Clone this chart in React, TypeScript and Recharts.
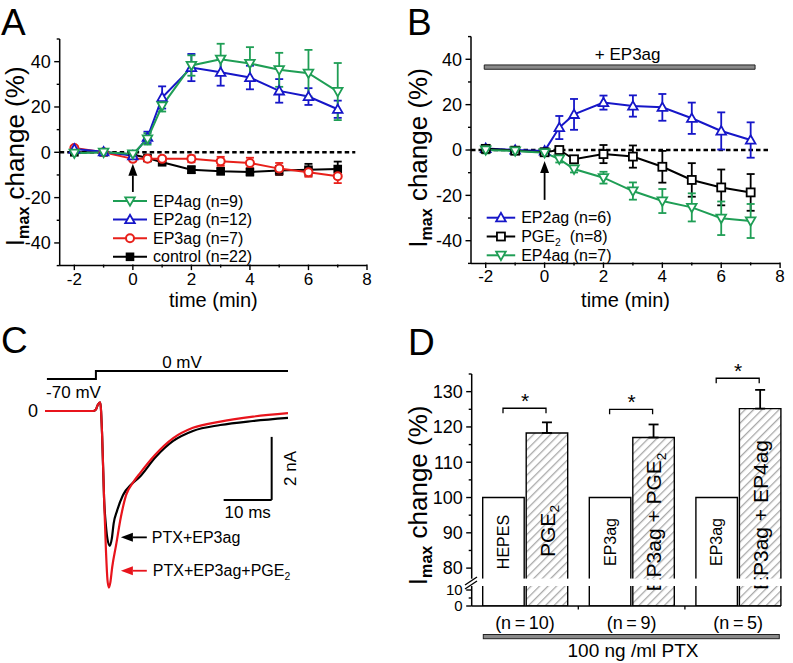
import React from "react";
import {
  LineChart,
  Line,
  XAxis,
  YAxis,
  ErrorBar,
  ReferenceLine,
  ReferenceArea,
  BarChart,
  Bar,
  LabelList,
} from "recharts";

const FONT = "'Liberation Sans', Arial, Helvetica, sans-serif";
const GREEN = "#1f9e55";
const BLUE = "#1616c8";
const RED = "#e8211b";

// ---------- Panel A (Imax change vs time) ----------
const timeA = [-2, -1, 0, 0.5, 1, 2, 3, 4, 5, 6, 7];
const ep4A = [-0.4, 0, -0.7, 5.9, 20.5, 38.3, 41.1, 39.2, 36.4, 34.9, 26.8];
const ep4AErr = [0.8, 0.8, 1, 2.5, 2.5, 4.5, 6.8, 7.2, 7.5, 10.3, 12.6];
const ep2A = [1.5, 0.2, -1.5, 6.6, 24.2, 37.4, 35.3, 33, 27.1, 24.6, 19];
const ep2AErr = [0.8, 0.8, 1, 2.5, 4.9, 6, 5.9, 5.2, 5.2, 3.7, 3.8];
const ep3A = [1.9, 0, -2.9, -2.8, -2.9, -2.9, -4, -4.7, -7.2, -8.8, -10.6];
const ep3AErr = [0.8, 0.6, 1, 1, 1, 1.5, 2, 2.3, 2.5, 2, 3];
const ctlA = [0, 0, -1, -2.5, -4.4, -7.7, -8.4, -8.7, -8, -7.7, -7.4];
const ctlAErr = [0.5, 0.5, 0.5, 0.8, 1, 1.5, 1.3, 1.5, 2, 2.6, 3.3];

// ---------- Panel B (on top of EP3ag) ----------
const timeB = [-2, -1, 0, 0.5, 1, 2, 3, 4, 5, 6, 7];
const ep2B = [0.7, 0, -0.4, 9.9, 15.7, 20.9, 19.4, 18.8, 14, 8.4, 4.4];
const ep2BErr = [1.5, 1.2, 1, 5.1, 6.8, 3.1, 4.7, 5.9, 6.9, 8.2, 7.8];
const pgeB = [0.5, -0.3, -1, 0, -4.1, -1.8, -2.9, -7.4, -13.2, -16.5, -18.7];
const pgeBErr = [0.8, 0.8, 0.8, 0.8, 1.2, 4, 4.9, 7, 7.4, 7.9, 8.1];
const ep4B = [0, -0.4, -1.2, -4, -8.4, -12.2, -18.1, -22.5, -25.3, -30.1, -31.3];
const ep4BErr = [1.5, 1.5, 1, 1.5, 1.5, 2.6, 3.8, 5.3, 6.2, 7.4, 7.5];

const ticksX = [-2, -1, 0, 1, 2, 3, 4, 5, 6, 7, 8];
const ticksY = [-50, -40, -30, -20, -10, 0, 10, 20, 30, 40, 50];

// ---------- Panel C (current traces, ms / nA) ----------
const voltT = [0.4, 10.6, 50.6];
const voltMv = [-70, 0, 0];
const blackT = [0, 5, 10, 10.6, 11, 11.5, 11.9, 12.3, 12.7, 13, 13.5, 13.9, 14.3, 15, 16.25, 18, 19.8, 22.9, 26.7, 30.8, 36.5, 43.3, 50.6];
const blackI = [0, 0, 0, 0.05, 0.2, 0.28, -0.8, -2.8, -3.7, -4.1, -4.32, -4.1, -3.6, -3.2, -2.69, -2.35, -2.1, -1.5, -0.96, -0.64, -0.45, -0.32, -0.22];
const redT = [0, 5, 10, 10.6, 11, 11.5, 11.9, 12.3, 12.7, 13, 13.3, 13.6, 14, 14.8, 15.8, 16.9, 18.3, 19.8, 22.9, 26.7, 30.8, 36.5, 43.3, 50.6];
const redI = [0, 0, 0, 0.05, 0.2, 0.28, -0.8, -2.8, -4.5, -5.4, -5.66, -5.5, -5.0, -4.3, -3.4, -2.69, -2.3, -1.99, -1.41, -0.87, -0.54, -0.34, -0.18, -0.07];

// ---------- Panel D (bars, 100 ng/ml PTX) ----------
const groupsD = ["(n\u2009=\u200910)", "(n\u2009=\u20099)", "(n\u2009=\u20095)"];
const baseD = [100, 100, 100];
const treatD = [118.3, 117.0, 125.2];
const treatErrD = [3.0, 3.7, 5.3];
const baseLabD = ["HEPES", "EP3ag", "EP3ag"];
const treatLabD = ["PGE2", "EP3ag + PGE2", "EP3ag + EP4ag"];
const bracketD = [125.3, 125.0, 133.8];

const rowsA = timeA.map((t, i) => ({
  t,
  ep4: ep4A[i], ep4e: ep4AErr[i],
  ep2: ep2A[i], ep2e: ep2AErr[i],
  ep3: ep3A[i], ep3e: ep3AErr[i],
  ctl: ctlA[i], ctle: ctlAErr[i],
}));
const rowsB = timeB.map((t, i) => ({
  t,
  ep2: ep2B[i], ep2e: ep2BErr[i],
  pge: pgeB[i], pgee: pgeBErr[i],
  ep4: ep4B[i], ep4e: ep4BErr[i],
}));
const voltRows = voltT.map((t, i) => ({ t, v: voltMv[i] }));
const blackRows = blackT.map((t, i) => ({ t, i: blackI[i] }));
const redRows = redT.map((t, i) => ({ t, i: redI[i] }));
const rowsD = groupsD.map((g, i) => ({
  g,
  base: baseD[i],
  treat: treatD[i],
  treatE: [0, treatErrD[i]],
  baseLab: baseLabD[i],
  treatLab: treatLabD[i],
}));

type Kind = "down" | "up" | "circle" | "square" | "squareFilled";

const legendA = [
  { name: "EP4ag (n=9)", kind: "down" as Kind, color: GREEN },
  { name: "EP2ag (n=12)", kind: "up" as Kind, color: BLUE },
  { name: "EP3ag (n=7)", kind: "circle" as Kind, color: RED },
  { name: "control (n=22)", kind: "squareFilled" as Kind, color: "#000" },
];
const legendB = [
  { name: "EP2ag (n=6)", kind: "up" as Kind, color: BLUE },
  { name: "PGE2\u00a0 (n=8)", kind: "square" as Kind, color: "#000" },
  { name: "EP4ag (n=7)", kind: "down" as Kind, color: GREEN },
];

// text with PGE2 -> PGE + subscript 2
function withSub(text: string, size: number) {
  const parts = text.split("PGE2");
  const out: React.ReactNode[] = [parts[0]];
  for (let i = 1; i < parts.length; i++) {
    out.push("PGE");
    out.push(
      <tspan key={`s${i}`} fontSize={size * 0.65} dy={size * 0.22}>
        2
      </tspan>
    );
    if (parts[i]) {
      out.push(
        <tspan key={`r${i}`} dy={-size * 0.22}>
          {parts[i]}
        </tspan>
      );
    }
  }
  return out;
}

function Marker({ cx, cy, kind, color }: { cx: number; cy: number; kind: Kind; color: string }) {
  if (cx == null || cy == null) return null;
  if (kind === "down")
    return <path d={`M${cx - 4.8},${cy - 3.6}L${cx + 4.8},${cy - 3.6}L${cx},${cy + 4.8}Z`} fill="#fff" stroke={color} strokeWidth={1.8} />;
  if (kind === "up")
    return <path d={`M${cx - 4.8},${cy + 3.6}L${cx + 4.8},${cy + 3.6}L${cx},${cy - 4.8}Z`} fill="#fff" stroke={color} strokeWidth={1.8} />;
  if (kind === "circle") return <circle cx={cx} cy={cy} r={4} fill="#fff" stroke={color} strokeWidth={2} />;
  if (kind === "square")
    return <rect x={cx - 4} y={cy - 4} width={8} height={8} fill="#fff" stroke={color} strokeWidth={1.8} />;
  return <rect x={cx - 4.3} y={cy - 4.3} width={8.6} height={8.6} fill={color} />;
}

const dotOf = (kind: Kind, color: string) => (p: any) =>
  <Marker key={`d-${p.index}`} cx={p.cx} cy={p.cy} kind={kind} color={color} />;

const fmt = (v: number) => (v < 0 ? `-${Math.abs(v)}` : `${v}`);

// x ticks: labels on even minutes, short ticks elsewhere
function TimeTick(p: any) {
  const { x, y, payload } = p;
  const v = payload.value;
  const major = v % 2 === 0;
  return (
    <g>
      <line x1={x} x2={x} y1={y - 8} y2={y - (major ? 2.5 : 5)} stroke="#000" strokeWidth={1.4} />
      {major && (
        <text x={x} y={y} dy="0.71em" textAnchor="middle" fontSize={17} fontFamily={FONT} fill="#000">
          {fmt(v)}
        </text>
      )}
    </g>
  );
}

const makeYTick = (isMajor: (v: number) => boolean, size = 18) => (p: any) => {
  const { x, y, payload } = p;
  const v = payload.value;
  const major = isMajor(v);
  return (
    <g>
      <line x1={x + (major ? 3.5 : 6)} x2={x + 9} y1={y} y2={y} stroke="#000" strokeWidth={1.4} />
      {major && (
        <text x={x} y={y} dy="0.35em" textAnchor="end" fontSize={size} fontFamily={FONT} fill="#000">
          {fmt(v)}
        </text>
      )}
    </g>
  );
};

function ImaxTitle({ x, y, size = 26 }: { x: number; y: number; size?: number }) {
  return (
    <text transform={`rotate(-90 ${x} ${y})`} x={x} y={y} textAnchor="middle" fontFamily={FONT} fontSize={size} fill="#000">
      I
      <tspan fontSize={size * 0.62} fontWeight="bold" dy={size * 0.2}>
        max
      </tspan>
      <tspan dy={-size * 0.2}> change (%)</tspan>
    </text>
  );
}

const titleAt = (bx: number, dy: number, size = 26) => (p: any) => {
  const vb = p.viewBox;
  return <ImaxTitle x={bx} y={vb.y + vb.height / 2 + dy} size={size} />;
};

// arrow: line from (x1,y1) to head at (x2,y2)
function ArrowShape(p: any) {
  const { x1, y1, x2, y2, stroke, len = 12, half = 4.5 } = p;
  const dx = x2 - x1;
  const dy = y2 - y1;
  const L = Math.hypot(dx, dy) || 1;
  const ux = dx / L;
  const uy = dy / L;
  const bx = x2 - ux * len;
  const by = y2 - uy * len;
  return (
    <g>
      <line x1={x1} y1={y1} x2={bx} y2={by} stroke={stroke} strokeWidth={1.8} />
      <path d={`M${x2},${y2}L${bx - uy * half},${by + ux * half}L${bx + uy * half},${by - ux * half}Z`} fill={stroke} />
    </g>
  );
}

function LegendRows({ x, y, gap, len, items }: { x: number; y: number; gap: number; len: number; items: { name: string; kind: Kind; color: string }[] }) {
  return (
    <g>
      {items.map((it, i) => {
        const cy = y + i * gap;
        return (
          <g key={it.name}>
            <line x1={x} x2={x + len} y1={cy} y2={cy} stroke={it.color} strokeWidth={2} />
            <Marker cx={x + len / 2} cy={cy} kind={it.kind} color={it.color} />
            <text x={x + len + 6} y={cy} dy="0.35em" fontSize={16} fontFamily={FONT} fill="#000">
              {withSub(it.name, 16)}
            </text>
          </g>
        );
      })}
    </g>
  );
}

function OpenBar(p: any) {
  const { x, y, width, height, fill, open } = p;
  if (x == null || width == null || height == null) return null;
  const l = x;
  const r = x + width;
  const t = y;
  const b = y + height;
  const d = open === "bottom" ? `M${l},${b}V${t}H${r}V${b}` : `M${l},${t}V${b}H${r}V${t}`;
  return (
    <g>
      <rect x={l} y={t} width={width} height={height} fill={fill} />
      <path d={d} fill="none" stroke="#000" strokeWidth={1.4} />
    </g>
  );
}

function BarText(p: any) {
  const vb = p.viewBox && p.viewBox.width != null ? p.viewBox : p;
  const { x, y, width, height } = vb;
  const { value, index, big } = p;
  const size = big ? 21 : 16;
  const bottom = y + height;
  const mid = big ? bottom - [47.7, 56.7, 63.7][index] : bottom - 36.7;
  const bx = x + width / 2 + size * 0.36;
  return (
    <text transform={`rotate(-90 ${bx} ${mid})`} x={bx} y={mid} textAnchor="middle" fontSize={size} fontFamily={FONT} fill="#000">
      {withSub(String(value), size)}
    </text>
  );
}

function BracketShape(p: any) {
  const cx = p.x1;
  const y = p.y1;
  if (cx == null || y == null) return null;
  return (
    <g>
      <path d={`M${cx - 22},${y + 5}V${y}H${cx + 21}V${y + 5}`} fill="none" stroke="#000" strokeWidth={1.3} />
      <text x={cx} y={y - 0.5} textAnchor="middle" fontSize={21} fontFamily={FONT} fill="#000">
        *
      </text>
    </g>
  );
}

function NTick(p: any) {
  const { x, y, payload, index } = p;
  return (
    <g>
      <text x={x} y={y} dy="0.71em" textAnchor="middle" fontSize={18} fontFamily={FONT} fill="#000">
        {payload.value}
      </text>
      {index < 2 && <line x1={x + 53.3} x2={x + 53.3} y1={y - 10} y2={y - 6.5} stroke="#000" strokeWidth={1.3} />}
    </g>
  );
}

const axisStyle = { stroke: "#000", strokeWidth: 1.5 };
const timeLabel = { value: "time (min)", position: "insideBottom" as const, offset: 8.5, fontSize: 20, fill: "#000", fontFamily: FONT };

const Box = ({ left, top, children }: { left: number; top: number; children: React.ReactNode }) => (
  <div style={{ position: "absolute", left, top }}>{children}</div>
);

export default function App() {
  return (
    <div style={{ position: "absolute", left: 0, top: 0, width: 793, height: 663, background: "#fff", overflow: "hidden", fontFamily: FONT }}>
      <svg width={0} height={0} style={{ position: "absolute" }}>
        <defs>
          <pattern id="hatchD" patternUnits="userSpaceOnUse" width={6} height={6} patternTransform="rotate(45)">
            <rect width={6} height={6} fill="#fff" />
            <line x1={0} y1={0} x2={0} y2={6} stroke="#a9a9a9" strokeWidth={2.6} />
          </pattern>
        </defs>
      </svg>

      {/* A */}
      <Box left={0} top={0}>
        <LineChart width={390} height={315} data={rowsA} margin={{ top: 39, right: 23, left: 0, bottom: 0 }}>
          <XAxis dataKey="t" type="number" domain={[-2.5, 8]} ticks={ticksX} interval={0} allowDataOverflow
            tick={TimeTick} tickLine={false} axisLine={axisStyle} tickSize={5} tickMargin={2} height={49.4}
            label={timeLabel} />
          <YAxis type="number" domain={[-50, 50]} ticks={ticksY} interval={0} allowDataOverflow
            tick={makeYTick((v) => v % 20 === 0)} tickLine={false} axisLine={axisStyle} tickSize={5} tickMargin={4} width={59.7}
            label={{ content: titleAt(24, 4) }} />
          <ReferenceLine segment={[{ x: -2.5, y: 0 }, { x: 7.6, y: 0 }]} stroke="#000" strokeWidth={2.5} strokeDasharray="4.5 3" />
          <ReferenceLine segment={[{ x: 0, y: -17.5 }, { x: 0, y: -5 }]} stroke="#000" shape={ArrowShape} />
          <Line dataKey="ctl" stroke="#000" strokeWidth={2} isAnimationActive={false} dot={dotOf("squareFilled", "#000")} activeDot={false}>
            <ErrorBar dataKey="ctle" direction="y" width={4} stroke="#000" strokeWidth={1.8} />
          </Line>
          <Line dataKey="ep3" stroke={RED} strokeWidth={2} isAnimationActive={false} dot={dotOf("circle", RED)} activeDot={false}>
            <ErrorBar dataKey="ep3e" direction="y" width={4} stroke={RED} strokeWidth={1.8} />
          </Line>
          <Line dataKey="ep2" stroke={BLUE} strokeWidth={2} isAnimationActive={false} dot={dotOf("up", BLUE)} activeDot={false}>
            <ErrorBar dataKey="ep2e" direction="y" width={4} stroke={BLUE} strokeWidth={1.8} />
          </Line>
          <Line dataKey="ep4" stroke={GREEN} strokeWidth={2} isAnimationActive={false} dot={dotOf("down", GREEN)} activeDot={false}>
            <ErrorBar dataKey="ep4e" direction="y" width={4} stroke={GREEN} strokeWidth={1.8} />
          </Line>
        </LineChart>
      </Box>

      {/* B */}
      <Box left={395} top={0}>
        <LineChart width={398} height={315} data={rowsB} margin={{ top: 36.6, right: 12.9, left: 0, bottom: 0 }}>
          <XAxis dataKey="t" type="number" domain={[-2.5, 8]} ticks={ticksX} interval={0} allowDataOverflow
            tick={TimeTick} tickLine={false} axisLine={axisStyle} tickSize={5} tickMargin={2} height={51.6}
            label={timeLabel} />
          <YAxis type="number" domain={[-50, 50]} ticks={ticksY} interval={0} allowDataOverflow
            tick={makeYTick((v) => v % 20 === 0)} tickLine={false} axisLine={axisStyle} tickSize={5} tickMargin={4} width={76}
            label={{ content: titleAt(32, 8) }} />
          <ReferenceArea x1={-2.05} x2={7.15} y1={35.6} y2={37.5} fill="#8a8a8a" fillOpacity={1} stroke="#222" strokeWidth={1}
            label={{ value: "+ EP3ag", position: "top", offset: 5, dx: 8, fontSize: 17, fill: "#000", fontFamily: FONT }} />
          <ReferenceLine segment={[{ x: -2.5, y: 0 }, { x: 7.6, y: 0 }]} stroke="#000" strokeWidth={2.5} strokeDasharray="4.5 3" />
          <ReferenceLine segment={[{ x: 0, y: -22 }, { x: 0, y: -4.8 }]} stroke="#000" shape={ArrowShape} />
          <Line dataKey="ep2" stroke={BLUE} strokeWidth={2} isAnimationActive={false} dot={dotOf("up", BLUE)} activeDot={false}>
            <ErrorBar dataKey="ep2e" direction="y" width={4} stroke={BLUE} strokeWidth={1.8} />
          </Line>
          <Line dataKey="pge" stroke="#000" strokeWidth={2} isAnimationActive={false} dot={dotOf("square", "#000")} activeDot={false}>
            <ErrorBar dataKey="pgee" direction="y" width={4} stroke="#000" strokeWidth={1.8} />
          </Line>
          <Line dataKey="ep4" stroke={GREEN} strokeWidth={2} isAnimationActive={false} dot={dotOf("down", GREEN)} activeDot={false}>
            <ErrorBar dataKey="ep4e" direction="y" width={4} stroke={GREEN} strokeWidth={1.8} />
          </Line>
        </LineChart>
      </Box>

      {/* C: voltage step */}
      <Box left={0} top={355}>
        <LineChart width={300} height={40} data={voltRows} margin={{ top: 16, right: 12, left: 45, bottom: 16 }}>
          <XAxis dataKey="t" type="number" domain={[0, 50.6]} hide />
          <YAxis type="number" domain={[-70, 0]} hide />
          <Line dataKey="v" type="stepAfter" stroke="#000" strokeWidth={2} dot={false} activeDot={false} isAnimationActive={false} />
        </LineChart>
      </Box>

      {/* C: current traces */}
      <Box left={0} top={340}>
        <LineChart width={300} height={280} margin={{ top: 24.2, right: 12, left: 0, bottom: 21.8 }}>
          <XAxis dataKey="t" type="number" domain={[0, 50.6]} hide allowDataOverflow />
          <YAxis type="number" domain={[-6, 1.5]} ticks={[0]} width={45} allowDataOverflow axisLine={false} tickLine={false}
            tickSize={0} tickMargin={7}
            tick={(p: any) => (
              <text x={p.x} y={p.y} dy="0.35em" textAnchor="end" fontSize={18} fontFamily={FONT} fill="#000">
                {p.payload.value}
              </text>
            )} />
          <Line data={blackRows} dataKey="i" type="monotone" stroke="#000" strokeWidth={2.2} dot={false} activeDot={false} isAnimationActive={false} />
          <Line data={redRows} dataKey="i" type="monotone" stroke="#e8141c" strokeWidth={2.2} dot={false} activeDot={false} isAnimationActive={false} />
          <ReferenceLine segment={[{ x: 47.2, y: -0.83 }, { x: 47.2, y: -2.85 }]} stroke="#000" strokeWidth={2}
            label={{
              content: (p: any) => {
                const vb = p.viewBox;
                const bx = vb.x + 24;
                const cy = vb.y + vb.height / 2;
                return (
                  <text transform={`rotate(-90 ${bx} ${cy})`} x={bx} y={cy} textAnchor="middle" fontSize={17} fontFamily={FONT} fill="#000">
                    2 nA
                  </text>
                );
              },
            }} />
          <ReferenceLine segment={[{ x: 37.2, y: -2.85 }, { x: 47.2, y: -2.85 }]} stroke="#000" strokeWidth={2}
            label={{ value: "10 ms", position: "bottom", offset: 6, fontSize: 17, fill: "#000", fontFamily: FONT }} />
          <ReferenceLine segment={[{ x: 21.2, y: -4.05 }, { x: 15.8, y: -4.05 }]} stroke="#000" shape={ArrowShape}
            label={{
              content: (p: any) => (
                <text x={p.viewBox.x + p.viewBox.width + 5} y={p.viewBox.y} dy="0.35em" fontSize={16} fontFamily={FONT} fill="#000">
                  PTX+EP3ag
                </text>
              ),
            }} />
          <ReferenceLine segment={[{ x: 21.2, y: -5.12 }, { x: 15.8, y: -5.12 }]} stroke="#e8141c" shape={ArrowShape}
            label={{
              content: (p: any) => (
                <text x={p.viewBox.x + p.viewBox.width + 6} y={p.viewBox.y} dy="0.35em" fontSize={16} fontFamily={FONT} fill="#000">
                  {withSub("PTX+EP3ag+PGE2", 16)}
                </text>
              ),
            }} />
        </LineChart>
      </Box>

      {/* D: lower segment (0-12.5) */}
      <Box left={395} top={560}>
        <BarChart width={398} height={103} data={rowsD} barSize={41.5} barGap={2} margin={{ top: 26, right: 1.5, left: 0, bottom: 0 }}>
          <XAxis dataKey="g" type="category" axisLine={false} tickLine={false} tickSize={4} tickMargin={6} height={57} interval={0} tick={NTick} />
          <YAxis type="number" domain={[0, 12.5]} ticks={[0, 5, 10]} interval={0} allowDataOverflow width={76.7}
            tick={makeYTick((v) => v % 10 === 0, 15)} tickLine={false} axisLine={axisStyle} tickSize={5} tickMargin={4} />
          <Bar dataKey="base" fill="#fff" isAnimationActive={false} shape={(p: any) => <OpenBar {...p} open="top" />} />
          <Bar dataKey="treat" fill="url(#hatchD)" isAnimationActive={false} shape={(p: any) => <OpenBar {...p} open="top" />} />
        </BarChart>
      </Box>

      {/* D: upper segment (77-135) */}
      <Box left={395} top={360}>
        <BarChart width={398} height={250} data={rowsD} barSize={41.5} barGap={2} margin={{ top: 14, right: 1.5, left: 0, bottom: 31.3 }}>
          <XAxis dataKey="g" type="category" hide />
          <YAxis type="number" domain={[77, 135]} ticks={[80, 85, 90, 95, 100, 105, 110, 115, 120, 125, 130, 135]} interval={0}
            allowDataOverflow width={76.7} tick={makeYTick((v) => v % 10 === 0)} tickLine={false} axisLine={axisStyle}
            tickSize={5} tickMargin={4} label={{ content: titleAt(32, 19) }} />
          <Bar dataKey="base" fill="#fff" isAnimationActive={false} shape={(p: any) => <OpenBar {...p} open="bottom" />}>
            <LabelList dataKey="baseLab" content={(p: any) => <BarText {...p} big={false} />} />
          </Bar>
          <Bar dataKey="treat" fill="url(#hatchD)" isAnimationActive={false} shape={(p: any) => <OpenBar {...p} open="bottom" />}>
            <ErrorBar dataKey="treatE" direction="y" width={5} stroke="#000" strokeWidth={1.8} />
            <LabelList dataKey="treatLab" content={(p: any) => <BarText {...p} big />} />
          </Bar>
          {rowsD.map((r, i) => (
            <ReferenceLine key={r.g} segment={[{ x: r.g, y: bracketD[i] }, { x: r.g, y: bracketD[i] }]} shape={BracketShape} />
          ))}
        </BarChart>
      </Box>

      {/* annotations */}
      <svg width={793} height={663} style={{ position: "absolute", left: 0, top: 0, pointerEvents: "none" }}>
        <g fontFamily={FONT} fill="#000">
          <text x={1} y={35} fontSize={37}>A</text>
          <text x={407} y={35} fontSize={37}>B</text>
          <text x={1} y={353} fontSize={37}>C</text>
          <text x={408} y={355} fontSize={37}>D</text>
        </g>
        <LegendRows x={113} y={201} gap={18.6} len={34} items={legendA} />
        <LegendRows x={486.7} y={217.7} gap={18.8} len={28.5} items={legendB} />
        <g fontFamily={FONT} fill="#000" fontSize={17}>
          <text x={182} y={362} dy="0.35em" textAnchor="middle">0 mV</text>
          <text x={73.5} y={392.5} dy="0.35em" textAnchor="middle">-70 mV</text>
        </g>
        {/* axis break in D */}
        <rect x={466} y={579.3} width={320} height={6.4} fill="#fff" />
        <line x1={465} y1={585} x2={477} y2={577} stroke="#000" strokeWidth={1.3} />
        <line x1={465} y1={589} x2={477} y2={581} stroke="#000" strokeWidth={1.3} />
        <line x1={471.7} y1={606} x2={781} y2={606} stroke="#000" strokeWidth={1.5} />
        <rect x={483.3} y={634.5} width={296} height={4.2} fill="#8a8a8a" stroke="#222" strokeWidth={1} />
        <text x={633} y={650} dy="0.35em" textAnchor="middle" fontSize={19} fontFamily={FONT} fill="#000">
          100 ng /ml PTX
        </text>
      </svg>
    </div>
  );
}
